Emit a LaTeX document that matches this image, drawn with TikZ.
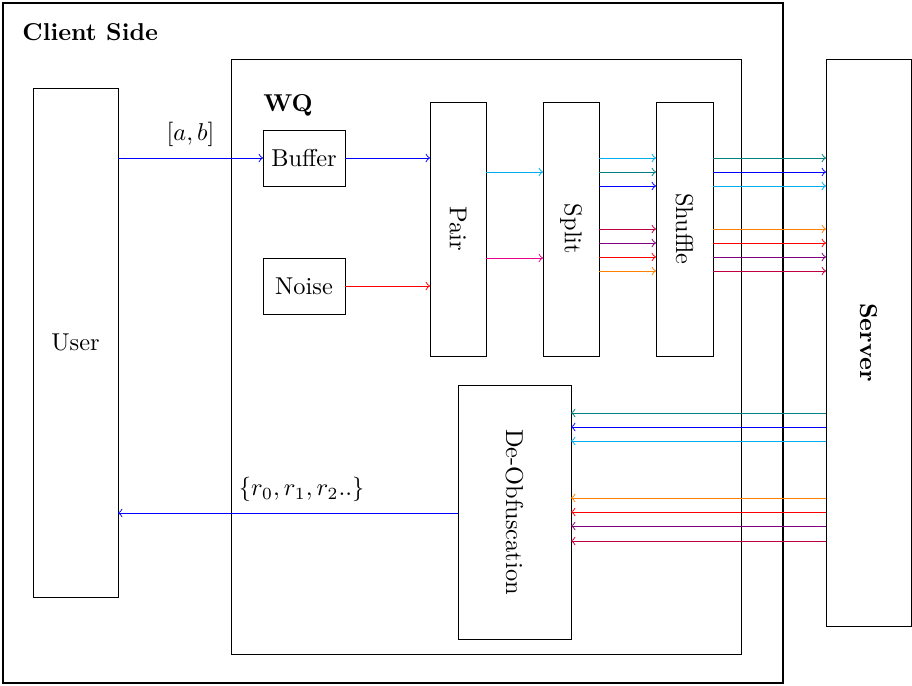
\documentclass[tikz,border=0pt]{standalone}
\usetikzlibrary{calc}
\tikzset{
  blk/.style={draw, thin, inner sep=0pt, outer sep=0pt},
  arr/.style={->, thin},
  lbl/.style={inner sep=0pt, anchor=west},
  elbl/.style={text=black, above=1pt}
}
\begin{document}
\begin{tikzpicture}[x=0.41pt,y=-0.41pt]
\useasboundingbox (0,0) rectangle (912,686);
% containers
\node[blk, thick, minimum width=780*0.41pt, minimum height=680*0.41pt] (client) at (393,343) {};
\node[lbl, font=\bfseries] (clientlbl) at (22,32) {Client Side};
\node[blk, minimum width=510*0.41pt, minimum height=595*0.41pt] (wq) at (486,356.5) {};
\node[lbl, font=\bfseries] (wqlbl) at (263,105) {WQ};
% blocks
\node[blk, minimum width=85*0.41pt, minimum height=509*0.41pt] (user) at (75.5,342.5) {User};
\node[blk, minimum width=82*0.41pt, minimum height=56*0.41pt] (buffer) at (304,158) {Buffer};
\node[blk, minimum width=82*0.41pt, minimum height=56*0.41pt] (noise) at (304,286) {Noise};
\node[blk, minimum width=56*0.41pt, minimum height=254*0.41pt] (pair) at (458,229) {};
\node[rotate=-90] (pairt) at (pair.center) {Pair};
\node[blk, minimum width=56*0.41pt, minimum height=254*0.41pt] (split) at (571,229) {};
\node[rotate=-90] (splitt) at (split.center) {Split};
\node[blk, minimum width=57*0.41pt, minimum height=254*0.41pt] (shuffle) at (684.5,229) {};
\node[rotate=-90] (shufflet) at (shuffle.center) {Shuffle};
\node[blk, minimum width=113*0.41pt, minimum height=254*0.41pt] (deob) at (514.5,512) {};
\node[rotate=-90] (deobt) at (deob.center) {De-Obfuscation};
\node[blk, minimum width=85*0.41pt, minimum height=567*0.41pt] (server) at (868.5,342.5) {};
\node[rotate=-90, font=\bfseries] (servert) at (server.center) {Server};
% input path
\draw[arr, blue] (user.east |- buffer.west) -- node[elbl, pos=0.5] (ab) {$[a,b]$} (buffer.west);
\draw[arr, blue] (buffer.east) -- (pair.west |- buffer.east);
\draw[arr, red] (noise.east) -- (pair.west |- noise.east);
% pair -> split
\draw[arr, cyan] (pair.east |- 0,172) -- (split.west |- 0,172);
\draw[arr, magenta] (pair.east |- 0,258) -- (split.west |- 0,258);
% split -> shuffle
\foreach \yy/\cc in {158/cyan,172/teal,186/blue,229/purple,243/violet,257/red,271/orange}
  \draw[arr, \cc] (split.east |- 0,\yy) -- (shuffle.west |- 0,\yy);
% shuffle -> server
\foreach \yy/\cc in {158/teal,172/blue,186/cyan,229/orange,243/red,257/violet,271/purple}
  \draw[arr, \cc] (shuffle.east |- 0,\yy) -- (server.west |- 0,\yy);
% server -> de-obfuscation
\foreach \yy/\cc in {413/teal,427/blue,441/cyan,498/orange,512/red,526/violet,541/purple}
  \draw[arr, \cc] (server.west |- 0,\yy) -- (deob.east |- 0,\yy);
% output
\draw[arr, blue] (deob.west |- 0,513) -- node[elbl, pos=0.46] (rr) {$\{r_0,r_1,r_2..\}$} (user.east |- 0,513);
\end{tikzpicture}
\end{document}
